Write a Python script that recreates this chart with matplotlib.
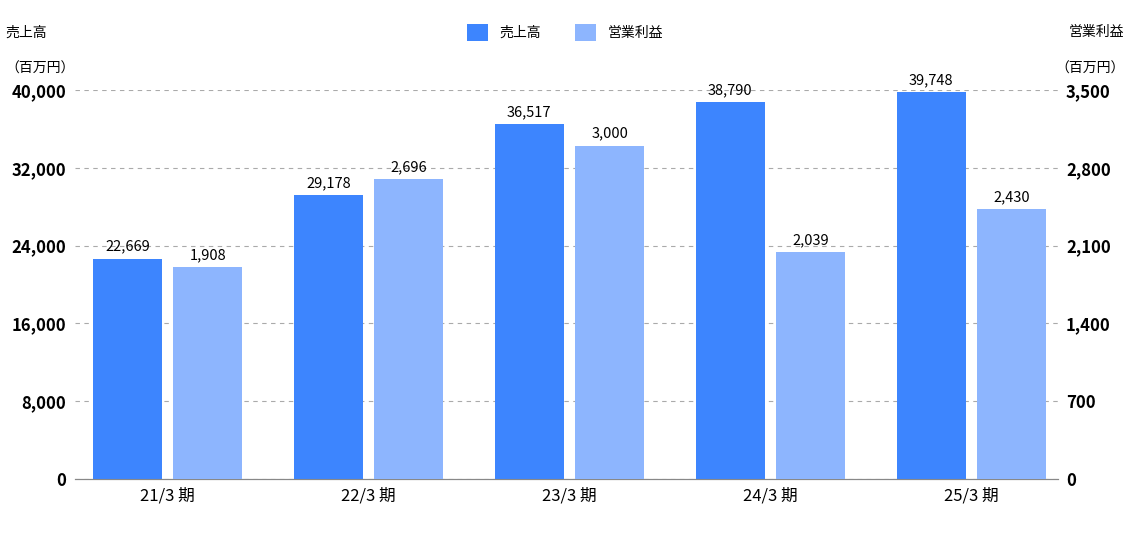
import matplotlib
matplotlib.use("Agg")
import matplotlib.pyplot as plt
import numpy as np

plt.rcParams['font.family'] = ['Noto Sans CJK JP', 'DejaVu Sans']

categories = ["21/3 期", "22/3 期", "23/3 期", "24/3 期", "25/3 期"]
sales = [22669, 29178, 36517, 38790, 39748]
profit = [1908, 2696, 3000, 2039, 2430]
left_ticks = [0, 8000, 16000, 24000, 32000, 40000]
right_ticks = [0, 700, 1400, 2100, 2800, 3500]

c1, c2 = "#3d85fe", "#8db5fe"
fig = plt.figure(figsize=(11.3, 5.38), dpi=100)
ax = fig.add_axes([0.066, 0.1097, 0.870, 0.723])
ax2 = ax.twinx()
x = np.arange(len(categories))
w = 0.343
off = 0.2
b1 = ax.bar(x - off, sales, w, color=c1, zorder=3)
b2 = ax2.bar(x + off, profit, w, color=c2, zorder=3)
ax.set_ylim(0, 40000)
ax2.set_ylim(0, 3500)
ax.set_xlim(-0.463, 4.43)
ax.set_yticks(left_ticks)
ax.set_yticklabels([f"{v:,}" for v in left_ticks], fontweight='bold', fontsize=12)
ax2.set_yticks(right_ticks)
ax2.set_yticklabels([f"{v:,}" for v in right_ticks], fontweight='bold', fontsize=12)
ax.set_xticks(x)
ax.set_xticklabels(categories, fontsize=12)
ax.grid(axis='y', linestyle=(0, (4, 4)), color='#aaaaaa', linewidth=0.8, zorder=0)
for a in (ax, ax2):
    for s in ['left', 'right', 'top']:
        a.spines[s].set_visible(False)
    a.spines['bottom'].set_color('#888888')
    a.tick_params(length=0, pad=6)
for xi, v in zip(x, sales):
    ax.text(xi - off, v + 500, f"{v:,}", ha='center', va='bottom', fontsize=10.5)
for xi, v in zip(x, profit):
    ax2.text(xi + off, v + 44, f"{v:,}", ha='center', va='bottom', fontsize=10.5)
fig.text(0.005, 0.94, "売上高", fontsize=10, va='center')
fig.text(0.005, 0.872, "（百万円）", fontsize=10, va='center')
fig.text(0.995, 0.94, "営業利益", fontsize=10, va='center', ha='right')
fig.text(0.995, 0.872, "（百万円）", fontsize=10, va='center', ha='right')
fig.legend([b1, b2], ["売上高", "営業利益"], loc='center', bbox_to_anchor=(0.5, 0.94),
           ncol=2, frameon=False, fontsize=10, handlelength=1.5, handleheight=1.5, columnspacing=2.5)
fig.savefig("out.png", dpi=100)
